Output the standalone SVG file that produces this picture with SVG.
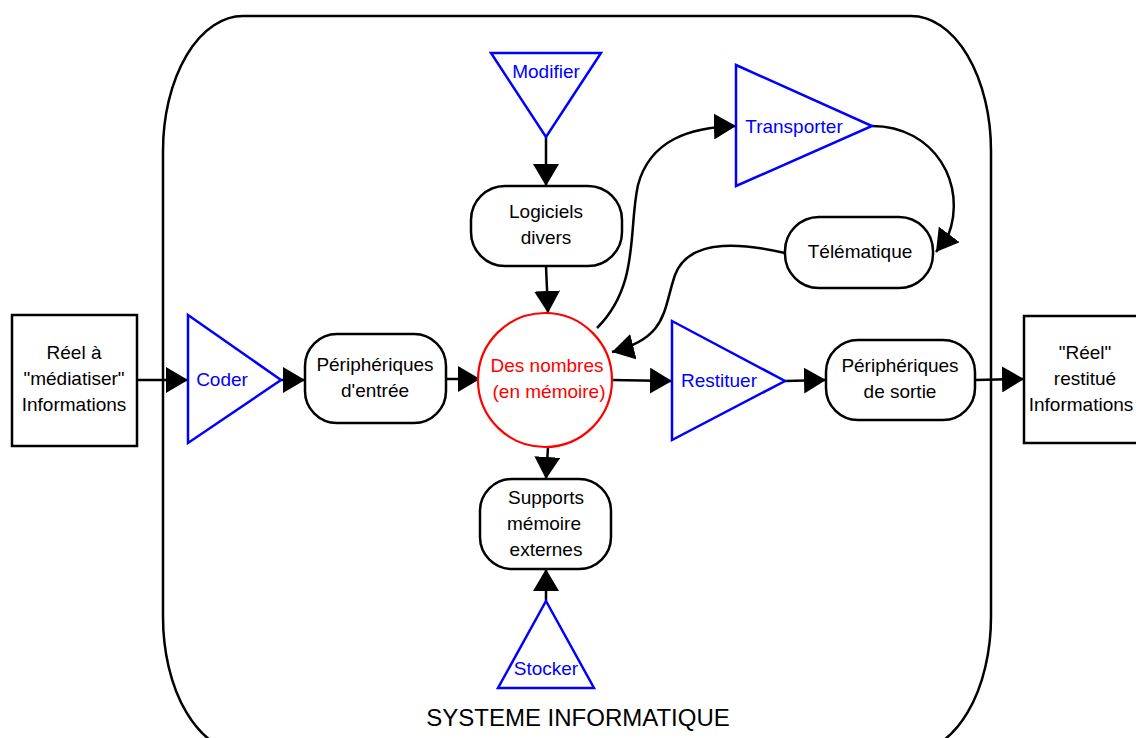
<svg xmlns="http://www.w3.org/2000/svg" width="1136" height="738" viewBox="0 0 1136 738">
<style>
text{font-family:"Liberation Sans",Arial,sans-serif;font-size:19px;text-anchor:middle}
.k{fill:#000}
.b{fill:#0000ff}
.r{fill:#ff0000}
.box{fill:#fff;stroke:#000;stroke-width:2.5}
.tri{fill:#fff;stroke:#0000ff;stroke-width:2.5;stroke-linejoin:miter}
.c{fill:none;stroke:#000;stroke-width:2.5;marker-end:url(#ah)}
</style>
<defs>
<marker id="ah" markerUnits="userSpaceOnUse" markerWidth="23" markerHeight="26" refX="22" refY="13" orient="auto" viewBox="0 0 23 26">
<path d="M0,0 L22,13 L0,26 z" fill="#000"/>
</marker>
</defs>
<rect width="1136" height="738" fill="#fff"/>
<g id="systeme">
<rect x="163" y="16" width="828" height="736" rx="80" ry="135" fill="none" stroke="#000" stroke-width="2.5"/>
<text x="578" y="726" style="font-size:24px">SYSTEME INFORMATIQUE</text>
</g>
<g id="connectors">
<path class="c" d="M137,380 L188,380"/>
<path class="c" d="M281,380 L305,380"/>
<path class="c" d="M446,379 L480,379"/>
<path class="c" d="M612,380 L672,381"/>
<path class="c" d="M785,381 L826,380"/>
<path class="c" d="M975,380 L1024,379"/>
<path class="c" d="M546,137 L546,186"/>
<path class="c" d="M546,266 L548,313"/>
<path class="c" d="M548,447 L546,479"/>
<path class="c" d="M546,601 L546,569"/>
<path class="c" d="M597,328 C640,285 628,230 638,185 C650,140 690,127 736,126"/>
<path class="c" d="M872,126 C935,126 968,185 948,236 L936,252"/>
<path class="c" d="M785,253 C750,245 690,235 675,275 C663,310 668,338 612,352"/>
</g>
<g id="reel">
<rect class="box" x="12" y="315" width="125" height="131"/>
<text class="k" x="74" y="359">Réel à</text>
<text class="k" x="74" y="385">"médiatiser"</text>
<text class="k" x="74" y="411">Informations</text>
</g>
<g id="coder">
<polygon class="tri" points="188,315 281,380 188,443"/>
<text class="b" x="222" y="386">Coder</text>
</g>
<g id="peripheriques-entree">
<rect class="box" x="305" y="334" width="141" height="89" rx="32" ry="32"/>
<text class="k" x="375" y="371">Périphériques</text>
<text class="k" x="375" y="397">d'entrée</text>
</g>
<g id="nombres">
<circle cx="545" cy="380" r="67" fill="#fff" stroke="#ff0000" stroke-width="2.2"/>
<text class="r" x="547" y="372">Des nombres</text>
<text class="r" x="549" y="398">(en mémoire)</text>
</g>
<g id="restituer">
<polygon class="tri" points="672,321 785,381 672,440"/>
<text class="b" x="719" y="387">Restituer</text>
</g>
<g id="peripheriques-sortie">
<rect class="box" x="826" y="340" width="149" height="80" rx="32" ry="32"/>
<text class="k" x="900" y="372">Périphériques</text>
<text class="k" x="900" y="398">de sortie</text>
</g>
<g id="reel-restitue">
<rect class="box" x="1024" y="316" width="130" height="127"/>
<text class="k" x="1085" y="359">"Réel"</text>
<text class="k" x="1085" y="385">restitué</text>
<text class="k" x="1081" y="411">Informations</text>
</g>
<g id="modifier">
<polygon class="tri" points="491,53 601,53 546,137"/>
<text class="b" x="546" y="78">Modifier</text>
</g>
<g id="logiciels">
<rect class="box" x="471" y="186" width="151" height="80" rx="34" ry="34"/>
<text class="k" x="546" y="218">Logiciels</text>
<text class="k" x="546" y="244">divers</text>
</g>
<g id="transporter">
<polygon class="tri" points="736,65 872,126 736,186"/>
<text class="b" x="794" y="133">Transporter</text>
</g>
<g id="telematique">
<rect class="box" x="785" y="217" width="148" height="71" rx="34" ry="34"/>
<text class="k" x="860" y="258">Télématique</text>
</g>
<g id="supports">
<rect class="box" x="480" y="479" width="131" height="90" rx="32" ry="32"/>
<text class="k" x="546" y="504">Supports</text>
<text class="k" x="544" y="530">mémoire</text>
<text class="k" x="546" y="556">externes</text>
</g>
<g id="stocker">
<polygon class="tri" points="546,601 594,688 498,688"/>
<text class="b" x="546" y="675">Stocker</text>
</g>
</svg>
